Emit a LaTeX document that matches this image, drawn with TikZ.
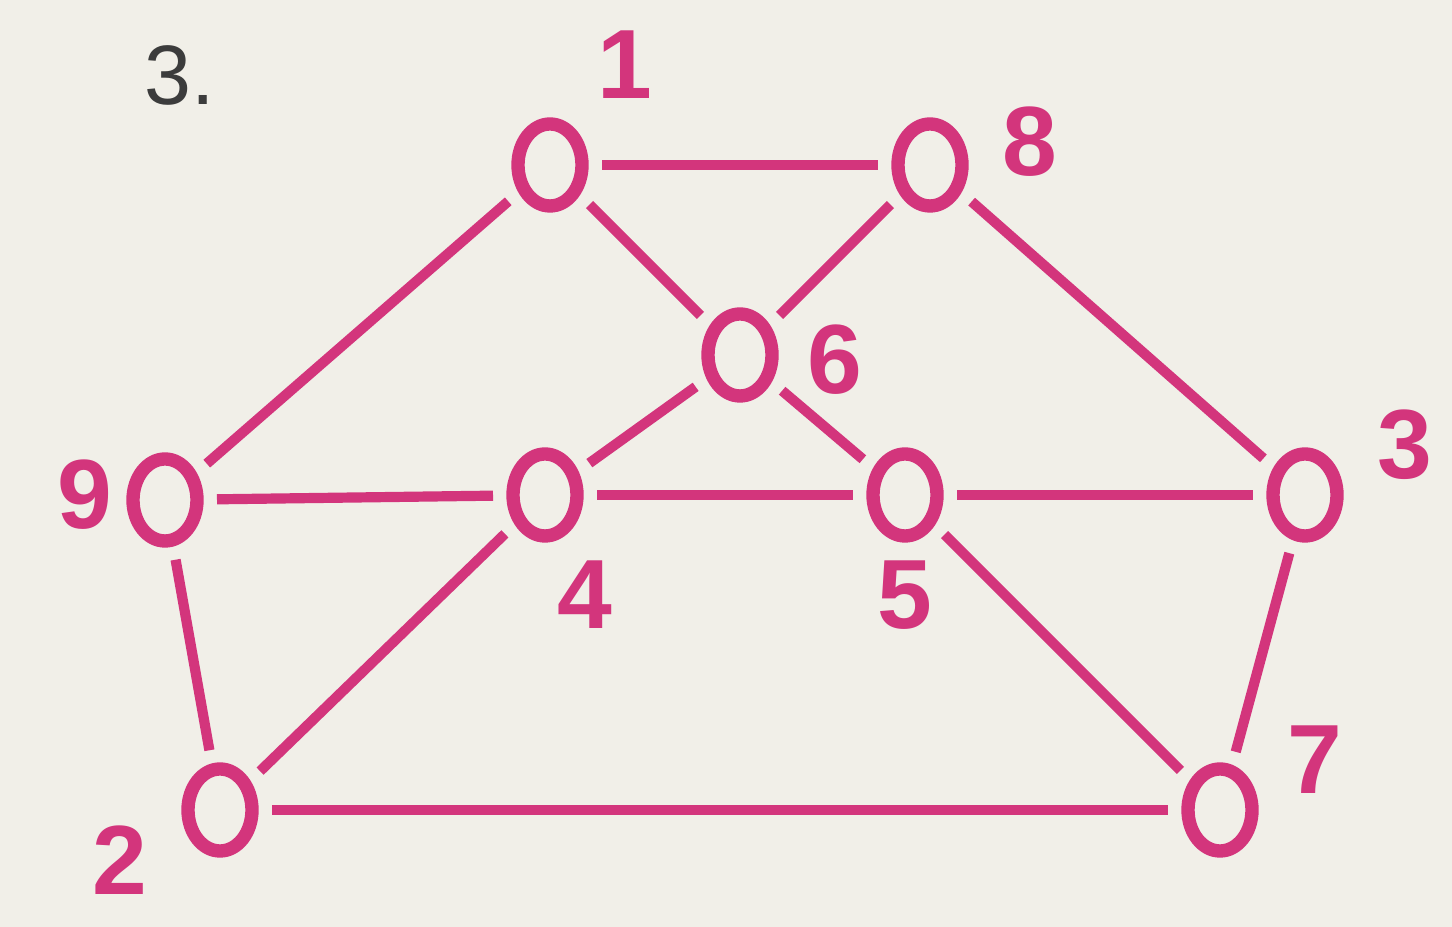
\documentclass[tikz,border=0pt]{standalone}
\usepackage{fontspec}
\setmainfont{Liberation Sans}
\usetikzlibrary{shapes.geometric}
\definecolor{ink}{HTML}{D3357C}
\definecolor{paper}{HTML}{F1EFE8}
\definecolor{numink}{HTML}{3C3C3C}
\tikzset{
  vtx/.style={draw=ink, ellipse, line width=3.8pt, minimum width=0.64cm, minimum height=0.82cm, inner sep=0pt, outer sep=0.2cm},
  edg/.style={draw=ink, line width=2.9pt},
  lbl/.style={text=ink, font=\bfseries\fontsize{28}{30}\selectfont, inner sep=0pt},
}
\begin{document}
\begin{tikzpicture}
\fill[paper] (0,0) rectangle (14.52,9.27);
\useasboundingbox (0,0) rectangle (14.52,9.27);
\node[vtx] (n1) at (5.50,7.62) {};
\node[vtx] (n8) at (9.30,7.62) {};
\node[vtx] (n6) at (7.40,5.72) {};
\node[vtx] (n9) at (1.65,4.27) {};
\node[vtx] (n4) at (5.45,4.32) {};
\node[vtx] (n5) at (9.05,4.32) {};
\node[vtx] (n3) at (13.05,4.32) {};
\node[vtx] (n2) at (2.20,1.17) {};
\node[vtx] (n7) at (12.20,1.17) {};
\node[lbl] (l1) at (6.25,8.62) {1};
\node[lbl] (l8) at (10.30,7.85) {8};
\node[lbl] (l6) at (8.35,5.67) {6};
\node[lbl] (l9) at (0.85,4.32) {9};
\node[lbl] (l4) at (5.85,3.32) {4};
\node[lbl] (l5) at (9.05,3.32) {5};
\node[lbl] (l3) at (14.05,4.82) {3};
\node[lbl] (l2) at (1.20,0.67) {2};
\node[lbl] (l7) at (13.15,1.67) {7};
\node[text=numink, font=\fontsize{24}{26}\selectfont, inner sep=0pt] (t) at (1.80,8.52) {3.};
\path[edg] (n1) -- (n8);
\path[edg] (n1) -- (n6);
\path[edg] (n1) -- (n9);
\path[edg] (n8) -- (n6);
\path[edg] (n8) -- (n3);
\path[edg] (n6) -- (n4);
\path[edg] (n6) -- (n5);
\path[edg] (n9) -- (n4);
\path[edg] (n4) -- (n5);
\path[edg] (n5) -- (n3);
\path[edg] (n9) -- (n2);
\path[edg] (n4) -- (n2);
\path[edg] (n5) -- (n7);
\path[edg] (n3) -- (n7);
\path[edg] (n2) -- (n7);
\end{tikzpicture}
\end{document}
